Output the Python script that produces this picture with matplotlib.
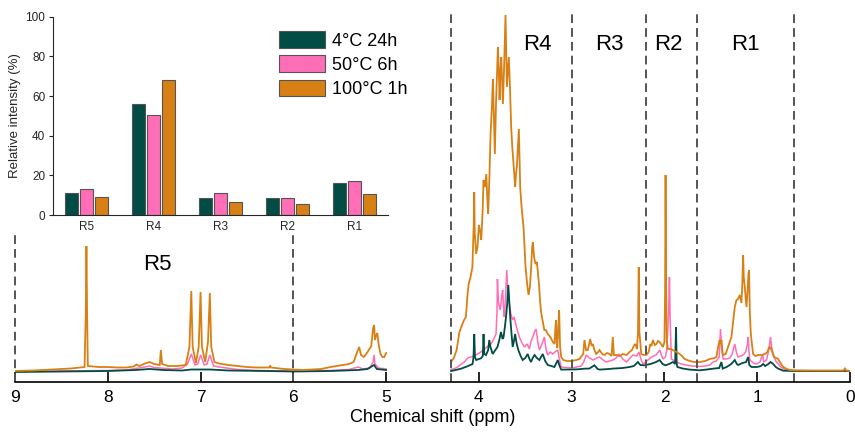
import numpy as np
import matplotlib
matplotlib.use('Agg')
import matplotlib.pyplot as plt

plt.rcParams['font.family'] = ['Liberation Sans', 'DejaVu Sans']

# Sample names and colours
samples = ['4°C 24h', '50°C 6h', '100°C 1h']
colors = ['#024C46', '#FF6EB6', '#D98015']

# Inset bar chart: relative intensity (%) of each region
regions = ['R5', 'R4', 'R3', 'R2', 'R1']
rel_4c = [10.9, 56.1, 8.4, 8.4, 16.3]
rel_50c = [12.9, 50.3, 10.9, 8.4, 17.3]
rel_100c = [9.2, 68.1, 6.4, 5.4, 10.6]

# Region boundaries (ppm) and label positions (ppm, height)
edges_low = [9, 6]
edges_high = [4.3, 3, 2.2, 1.65, 0.6]
region_labels = [('R5', 7.47, 107), ('R4', 3.37, 327), ('R3', 2.59, 327),
                 ('R2', 1.96, 327), ('R1', 1.13, 327)]

# 1H NMR spectra, (ppm, intensity a.u.)
# 9-5 ppm segment
spec_100c_arom = [
    (9.00, 1), (8.80, 1.5), (8.60, 2.5), (8.40, 3.5), (8.30, 4.5), (8.25, 5),
    (8.237, 60), (8.23, 126), (8.223, 60), (8.215, 6), (8.10, 5), (8.00, 5),
    (7.90, 4.5), (7.80, 4.5), (7.72, 5.5), (7.69, 7.5), (7.66, 6), (7.60, 8.5),
    (7.55, 10), (7.50, 8), (7.44, 7), (7.428, 22), (7.415, 8), (7.35, 6),
    (7.25, 6), (7.16, 7), (7.12, 25), (7.10, 81), (7.085, 25), (7.05, 9),
    (7.02, 25), (7.00, 80), (6.985, 25), (6.95, 10), (6.92, 30), (6.90, 79),
    (6.885, 25), (6.85, 10), (6.80, 8.5), (6.70, 7), (6.60, 6), (6.50, 5),
    (6.40, 4.5), (6.26, 4.5), (6.25, 6.5), (6.24, 4.5), (6.10, 3), (6.00, 2.5),
    (5.90, 2), (5.80, 2.5), (5.70, 3), (5.60, 5), (5.50, 6.5), (5.40, 8),
    (5.35, 10), (5.32, 18), (5.29, 25), (5.27, 17), (5.24, 15), (5.20, 20),
    (5.16, 26), (5.14, 44), (5.13, 47), (5.12, 32), (5.11, 36), (5.095, 39),
    (5.08, 27), (5.06, 18), (5.04, 15), (5.02, 15), (5.00, 19)]
spec_50c_arom = [
    (9.00, 0.5), (8.50, 1), (8.00, 1.5), (7.80, 2), (7.60, 5), (7.55, 6),
    (7.50, 4.5), (7.30, 3), (7.20, 4), (7.14, 8), (7.10, 18), (7.06, 7),
    (7.03, 8), (7.00, 17), (6.96, 7), (6.93, 8), (6.90, 17), (6.86, 6),
    (6.80, 5), (6.60, 2.5), (6.40, 1.5), (6.00, 1), (5.60, 1.5), (5.40, 2.5),
    (5.30, 5), (5.25, 3), (5.18, 4), (5.14, 10), (5.13, 17), (5.12, 8),
    (5.08, 4), (5.00, 3)]
spec_4c_arom = [
    (9.00, 0), (8.50, 0.5), (8.00, 1), (7.70, 2), (7.55, 3), (7.40, 2),
    (7.20, 1.5), (7.10, 2.5), (7.00, 2.5), (6.90, 2.5), (6.70, 1.5), (6.30, 1),
    (6.00, 0.5), (5.60, 1), (5.30, 2), (5.20, 3), (5.13, 7), (5.10, 3),
    (5.00, 2)]

# 4.3-0 ppm segment
spec_100c_aliph = [
    (4.30, 10), (4.27, 14), (4.24, 22), (4.21, 40), (4.19, 45), (4.16, 52),
    (4.14, 55), (4.12, 80), (4.11, 88), (4.09, 95), (4.07, 105), (4.055, 150),
    (4.05, 180), (4.045, 140), (4.03, 118), (4.015, 125), (4.00, 147),
    (3.985, 140), (3.975, 132), (3.96, 160), (3.95, 192), (3.935, 185),
    (3.92, 198), (3.91, 175), (3.90, 158), (3.885, 200), (3.874, 238),
    (3.86, 265), (3.849, 293), (3.84, 260), (3.828, 218), (3.815, 270),
    (3.795, 325), (3.785, 300), (3.777, 272), (3.768, 300), (3.759, 315),
    (3.75, 290), (3.741, 268), (3.73, 300), (3.718, 340), (3.713, 357),
    (3.705, 320), (3.698, 285), (3.688, 300), (3.677, 315), (3.665, 285),
    (3.652, 245), (3.64, 225), (3.627, 208), (3.618, 195), (3.609, 185),
    (3.60, 198), (3.591, 205), (3.58, 225), (3.569, 243), (3.562, 215),
    (3.555, 185), (3.54, 165), (3.519, 145), (3.508, 125), (3.497, 105),
    (3.48, 88), (3.465, 77), (3.45, 85), (3.436, 105), (3.426, 125),
    (3.418, 130), (3.405, 115), (3.39, 108), (3.375, 110), (3.354, 90),
    (3.34, 70), (3.33, 60), (3.31, 50), (3.295, 42), (3.28, 42), (3.257, 38),
    (3.23, 35), (3.203, 30), (3.185, 28), (3.175, 45), (3.167, 52), (3.16, 28),
    (3.156, 24), (3.145, 40), (3.135, 62), (3.125, 25), (3.113, 15),
    (3.09, 12), (3.05, 11), (3.00, 11), (2.95, 12), (2.916, 13), (2.875, 18),
    (2.862, 32), (2.845, 22), (2.826, 22), (2.80, 33), (2.785, 26),
    (2.772, 28), (2.755, 22), (2.736, 18), (2.715, 20), (2.70, 22), (2.67, 18),
    (2.646, 17), (2.62, 19), (2.592, 18), (2.57, 16), (2.557, 35), (2.545, 17),
    (2.52, 17), (2.48, 16), (2.448, 18), (2.41, 17), (2.376, 20), (2.35, 22),
    (2.32, 28), (2.305, 26), (2.297, 23), (2.285, 40), (2.277, 105),
    (2.27, 40), (2.25, 18), (2.22, 17), (2.196, 17), (2.17, 20), (2.152, 28),
    (2.14, 26), (2.124, 32), (2.105, 27), (2.088, 28), (2.07, 31), (2.052, 30),
    (2.03, 27), (2.016, 25), (2.00, 30), (1.993, 80), (1.988, 197),
    (1.982, 90), (1.975, 30), (1.962, 23), (1.935, 23), (1.908, 22),
    (1.87, 20), (1.836, 18), (1.80, 15), (1.782, 13), (1.728, 11), (1.68, 10),
    (1.62, 10), (1.56, 11), (1.512, 13), (1.46, 14), (1.44, 15), (1.422, 25),
    (1.405, 32), (1.396, 28), (1.385, 32), (1.375, 20), (1.368, 17),
    (1.34, 18), (1.314, 25), (1.295, 30), (1.278, 35), (1.26, 50),
    (1.242, 65), (1.224, 72), (1.206, 73), (1.188, 77), (1.17, 69),
    (1.16, 90), (1.152, 117), (1.145, 95), (1.134, 85), (1.125, 75),
    (1.116, 65), (1.105, 80), (1.095, 98), (1.088, 102), (1.08, 60),
    (1.07, 40), (1.062, 32), (1.044, 18), (1.02, 16), (0.99, 17), (0.95, 17),
    (0.918, 18), (0.89, 20), (0.875, 24), (0.864, 25), (0.845, 22),
    (0.82, 15), (0.795, 14), (0.774, 13), (0.75, 9), (0.72, 5), (0.68, 3),
    (0.648, 2), (0.60, 1.7), (0.40, 1.5), (0.20, 1.5), (0.07, 1.5),
    (0.055, 3.5), (0.04, 1.5), (0.00, 1)]
spec_50c_aliph = [
    (4.30, 2.4), (4.26, 3.5), (4.23, 5), (4.19, 8), (4.157, 10), (4.12, 14),
    (4.085, 15), (4.05, 16), (4.014, 18), (3.98, 20), (3.94, 23), (3.90, 26),
    (3.87, 28), (3.84, 33), (3.815, 38), (3.805, 60), (3.80, 93), (3.79, 70),
    (3.77, 62), (3.755, 75), (3.744, 82), (3.735, 65), (3.726, 55),
    (3.712, 75), (3.70, 102), (3.69, 85), (3.672, 68), (3.655, 58),
    (3.636, 52), (3.62, 55), (3.60, 47), (3.58, 40), (3.564, 35), (3.54, 30),
    (3.51, 25), (3.48, 28), (3.456, 23), (3.44, 30), (3.42, 35), (3.40, 40),
    (3.383, 43), (3.365, 30), (3.348, 22), (3.32, 28), (3.294, 35),
    (3.275, 22), (3.258, 17), (3.23, 20), (3.204, 18), (3.18, 20), (3.15, 22),
    (3.13, 12), (3.113, 5), (3.06, 4.5), (3.00, 4), (2.95, 5), (2.897, 6),
    (2.87, 10), (2.844, 17), (2.81, 14), (2.77, 12), (2.73, 14), (2.70, 15),
    (2.66, 12), (2.628, 10), (2.59, 11), (2.556, 12), (2.52, 14), (2.49, 18),
    (2.45, 13), (2.41, 10), (2.37, 14), (2.34, 17), (2.30, 16), (2.276, 20),
    (2.25, 12), (2.23, 8), (2.19, 11), (2.14, 15), (2.09, 17), (2.05, 22),
    (2.03, 16), (2.016, 13), (1.99, 15), (1.975, 22), (1.955, 60),
    (1.946, 95), (1.938, 50), (1.925, 13), (1.87, 10), (1.82, 8), (1.764, 7),
    (1.70, 6), (1.62, 5.5), (1.56, 6), (1.512, 7), (1.476, 10), (1.44, 11),
    (1.41, 15), (1.396, 43), (1.385, 25), (1.368, 13), (1.33, 13),
    (1.296, 14), (1.27, 18), (1.242, 28), (1.225, 20), (1.206, 15),
    (1.18, 16), (1.152, 17), (1.125, 20), (1.105, 28), (1.098, 35),
    (1.09, 22), (1.08, 12), (1.04, 9), (1.008, 8), (0.97, 10), (0.943, 18),
    (0.93, 10), (0.90, 12), (0.875, 22), (0.857, 35), (0.845, 25),
    (0.828, 18), (0.80, 11), (0.774, 8), (0.745, 5), (0.72, 3.4), (0.68, 2),
    (0.60, 1.3), (0.00, 1)]
spec_4c_aliph = [
    (4.30, 1), (4.25, 2), (4.19, 3.4), (4.13, 5.5), (4.068, 8), (4.058, 15),
    (4.05, 38), (4.042, 15), (4.03, 12), (3.977, 13.7), (3.958, 16),
    (3.95, 38), (3.942, 18), (3.923, 17), (3.90, 22), (3.888, 32),
    (3.875, 25), (3.852, 18), (3.83, 21), (3.80, 25), (3.78, 32), (3.762, 40),
    (3.745, 33), (3.734, 35), (3.72, 45), (3.708, 55), (3.695, 68),
    (3.683, 87), (3.672, 70), (3.66, 52), (3.648, 38), (3.636, 25),
    (3.62, 32), (3.61, 38), (3.592, 28), (3.575, 22), (3.55, 16), (3.528, 12),
    (3.50, 14), (3.474, 18), (3.455, 13), (3.438, 10), (3.42, 14), (3.40, 17),
    (3.375, 14), (3.348, 12), (3.33, 15), (3.312, 18), (3.285, 11),
    (3.258, 7), (3.22, 6), (3.186, 5), (3.165, 9), (3.15, 12), (3.13, 6),
    (3.113, 2.4), (3.00, 2.5), (2.934, 2.7), (2.85, 3.4), (2.81, 3.4),
    (2.754, 6.7), (2.72, 3), (2.70, 2.4), (2.60, 3), (2.556, 3.4), (2.45, 4),
    (2.376, 5), (2.33, 6), (2.286, 10), (2.26, 7), (2.22, 6.7), (2.15, 8),
    (2.09, 10), (2.052, 12), (2.02, 8), (1.99, 6.7), (1.95, 8), (1.908, 10),
    (1.885, 8), (1.875, 45), (1.868, 8), (1.86, 5), (1.80, 3.4), (1.728, 2.4),
    (1.62, 1.7), (1.55, 2.4), (1.47, 3.4), (1.41, 4), (1.386, 10),
    (1.372, 3.4), (1.33, 5), (1.28, 8), (1.242, 12), (1.22, 8), (1.206, 7),
    (1.16, 9), (1.12, 10), (1.098, 15), (1.085, 7), (1.062, 5), (1.00, 5),
    (0.96, 6), (0.936, 8), (0.915, 6), (0.88, 8), (0.857, 10), (0.828, 8),
    (0.80, 5), (0.774, 3.4), (0.72, 1.3), (0.60, 1), (0.00, 1)]

### Main spectrum ###
fig = plt.figure(figsize=(8.55, 4.33), dpi=100)
ax = fig.add_axes([15 / 855, 51 / 433, 835 / 855, 372 / 433])

spectra = [(spec_50c_arom, spec_50c_aliph, colors[1], 1.1),
           (spec_4c_arom, spec_4c_aliph, colors[0], 1.3),
           (spec_100c_arom, spec_100c_aliph, colors[2], 1.3)]
for arom, aliph, c, lw in spectra:
    for seg in (arom, aliph):
        x, y = np.array(seg).T
        ax.plot(x, y, color=c, lw=lw, solid_joinstyle='miter')

# Dashed region boundaries
dash = dict(colors='#555555', linestyles=(0, (4.5, 2.6)), lw=1.4,
            clip_on=False)
ax.vlines(edges_low, -10, 137, **dash)
ax.vlines(edges_high, -10, 362, **dash)

for name, px, py in region_labels:
    ax.text(px, py, name, fontsize=16, ha='center', va='center')

ax.set_xlim(9, 0)
ax.set_ylim(-10, 362)
for s in ['left', 'right', 'top']:
    ax.spines[s].set_visible(False)
ax.spines['bottom'].set_linewidth(1.2)
ax.set_yticks([])
ax.set_xticks(range(10))
ax.tick_params(axis='x', direction='in', length=7, width=1.2,
               labelsize=12.5, pad=6)
ax.set_xlabel('Chemical shift (ppm)', fontsize=13, labelpad=3)
ax.patch.set_alpha(0)

### Inset bar chart ###
ax_in = fig.add_axes([53 / 855, 218 / 433, 335 / 855, 198.3 / 433])
pos = np.arange(len(regions))
step, w = 0.224, 0.19
for k, vals in enumerate([rel_4c, rel_50c, rel_100c]):
    ax_in.bar(pos + (k - 1) * step, vals, width=w, color=colors[k],
              edgecolor='#555555', lw=0.8, label=samples[k])

ax_in.set_xlim(-0.5, 4.5)
ax_in.set_ylim(0, 100)
ax_in.set_xticks(pos)
ax_in.set_xticklabels(regions)
ax_in.set_yticks(range(0, 101, 20))
ax_in.tick_params(axis='y', direction='out', length=3, width=0.8,
                  labelsize=8.5, colors='#262626', pad=2.5)
ax_in.tick_params(axis='x', length=0, labelsize=8.5, colors='#262626', pad=4)
ax_in.set_ylabel('Relative intensity (%)', fontsize=9.5, color='#262626',
                 labelpad=3)
for s in ['right', 'top']:
    ax_in.spines[s].set_visible(False)
for s in ['left', 'bottom']:
    ax_in.spines[s].set_linewidth(0.8)
    ax_in.spines[s].set_color('#262626')
ax_in.patch.set_alpha(0)

ax_in.legend(loc='upper left', bbox_to_anchor=(279 / 855, 1 - 31 / 433),
             bbox_transform=fig.transFigure, frameon=False, fontsize=13,
             handlelength=2.55, handleheight=1.05, labelspacing=0.32,
             handletextpad=0.4, borderpad=0, borderaxespad=0)

plt.savefig('out.png', dpi=100)
